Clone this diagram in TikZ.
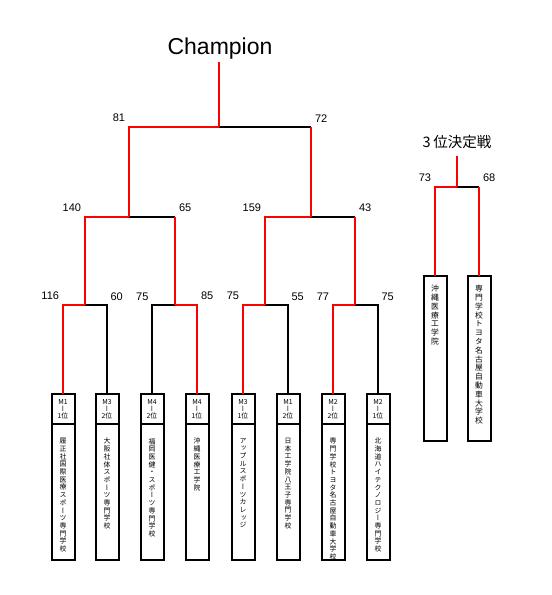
\documentclass[tikz,border=0pt]{standalone}
\usepackage{fontspec}
\setmainfont{Liberation Sans}
\newfontfamily\jp{Noto Sans CJK JP}
\newfontfamily\jpv[RawFeature=+vert]{Noto Sans CJK JP}
\usetikzlibrary{positioning}

% vertical (tategaki) stack of characters
\ExplSyntaxOn
\NewDocumentCommand\tate{m}{\vbox{\lineskiplimit=-20pt\relax
    \tl_map_inline:nn{#1}{\hbox{##1}}}}
\ExplSyntaxOff

\begin{document}
\begin{tikzpicture}[
    x=1pt, y=-1pt,
    every node/.style={inner sep=0pt},
    win/.style={draw=red, line width=2pt},
    lose/.style={draw=black, line width=1.1pt},
    hdr/.style={draw, line width=2pt, outer sep=0pt, minimum width=23pt, minimum height=30pt, align=center, font=\jp\fontsize{6.8}{7.2}\selectfont},
    namebox/.style={draw, line width=2pt, outer sep=0pt, minimum width=23pt, minimum height=136pt},
    thirdbox/.style={draw, line width=2pt, outer sep=0pt, minimum width=23pt, minimum height=165pt},
    tatetxt/.style={anchor=north, font=\jpv\fontsize{6.9}{7.7}\selectfont},
    tatebig/.style={anchor=north, font=\jpv\fontsize{7.8}{8.8}\selectfont},
    scl/.style={anchor=south east, xshift=-3pt, yshift=4pt, font=\fontsize{11}{13}\selectfont},
    scr/.style={anchor=south west, xshift=3pt, yshift=4pt, font=\fontsize{11}{13}\selectfont},
    champ/.style={anchor=base, inner sep=3pt, font=\fontsize{23}{27}\selectfont},
    ttl/.style={anchor=base, font=\jp\fontsize{14.5}{17}\selectfont}
]
\useasboundingbox (0,0) rectangle (552,595);

% ── Team boxes ──
\node[hdr] (h1) at (63,409)  {M1\\{\jpv ー}\\1位};
\node[hdr] (h2) at (107,409) {M3\\{\jpv ー}\\2位};
\node[hdr] (h3) at (152,409) {M4\\{\jpv ー}\\2位};
\node[hdr] (h4) at (197,409) {M4\\{\jpv ー}\\1位};
\node[hdr] (h5) at (243,409) {M3\\{\jpv ー}\\1位};
\node[hdr] (h6) at (288,409) {M1\\{\jpv ー}\\2位};
\node[hdr] (h7) at (333,409) {M2\\{\jpv ー}\\2位};
\node[hdr] (h8) at (378,409) {M2\\{\jpv ー}\\1位};

\node[namebox, below=0pt of h1] (n1) {};
\node[namebox, below=0pt of h2] (n2) {};
\node[namebox, below=0pt of h3] (n3) {};
\node[namebox, below=0pt of h4] (n4) {};
\node[namebox, below=0pt of h5] (n5) {};
\node[namebox, below=0pt of h6] (n6) {};
\node[namebox, below=0pt of h7] (n7) {};
\node[namebox, below=0pt of h8] (n8) {};

\node[tatetxt, below=14pt of n1.north] (t1) {\tate{履正社国際医療スポーツ専門学校}};
\node[tatetxt, below=14pt of n2.north] (t2) {\tate{大阪社体スポーツ専門学校}};
\node[tatetxt, below=14pt of n3.north] (t3) {\tate{福岡医健・スポーツ専門学校}};
\node[tatetxt, below=14pt of n4.north] (t4) {\tate{沖縄医療工学院}};
\node[tatetxt, below=14pt of n5.north] (t5) {\tate{アップルスポーツカレッジ}};
\node[tatetxt, below=14pt of n6.north] (t6) {\tate{日本工学院八王子専門学校}};
\node[tatetxt, below=14pt of n7.north] (t7) {\tate{専門学校トヨタ名古屋自動車大学校}};
\node[tatetxt, below=14pt of n8.north] (t8) {\tate{北海道ハイテクノロジー専門学校}};

% ── Junctions ──
\coordinate (q1) at (85,305);
\coordinate (q2) at (175,305);
\coordinate (q3) at (265,305);
\coordinate (q4) at (355,305);
\coordinate (s1) at (129,217);
\coordinate (s2) at (311,217);
\coordinate (f)  at (219,127);

% ── First round ──
\draw[lose] (h2.north) |- node[scr]{60} (q1);
\draw[win]  (h1.north) |- node[scl]{116} (q1);
\draw[lose] (h3.north) |- node[scl]{75} (q2);
\draw[win]  (h4.north) |- node[scr]{85} (q2);
\draw[lose] (h6.north) |- node[scr]{55} (q3);
\draw[win]  (h5.north) |- node[scl]{75} (q3);
\draw[lose] (h8.north) |- node[scr]{75} (q4);
\draw[win]  (h7.north) |- node[scl]{77} (q4);

% ── Semi-finals ──
\draw[lose] (q2 |- s1) -- (s1);
\draw[win]  (q2) -- (q2 |- s1) node[scr]{65};
\draw[win]  (q1) |- node[scl]{140} (s1);
\draw[lose] (q4 |- s2) -- (s2);
\draw[win]  (q4) -- (q4 |- s2) node[scr]{43};
\draw[win]  (q3) |- node[scl]{159} (s2);

% ── Final ──
\node[champ] (champ) at (220,54) {Champion};
\draw[lose] (s2 |- f) -- (f);
\draw[win]  (s2) -- (s2 |- f) node[scr]{72};
\draw[win]  (s1) |- node[scl]{81} (f);
\draw[win]  (f) -- (f |- champ.south);

% ── 3rd place match ──
\node[ttl] (third) at (457,147) {3\hspace{2.5pt}位決定戦};
\node[thirdbox] (b1) at (435,358.5) {};
\node[thirdbox] (b2) at (479,358.5) {};
\node[tatebig, below=9pt of b1.north] (t9)  {\tate{沖縄医療工学院}};
\node[tatebig, below=9pt of b2.north] (t10) {\tate{専門学校トヨタ名古屋自動車大学校}};
\coordinate (tp) at (457,187);

\draw[lose] (b2.north |- tp) -- (tp);
\draw[win]  (b2.north) -- (b2.north |- tp) node[scr]{68};
\draw[win]  (b1.north) |- node[scl]{73} (tp);
\draw[win]  (tp) -- ([yshift=-9pt]tp |- third.base);

\end{tikzpicture}
\end{document}
